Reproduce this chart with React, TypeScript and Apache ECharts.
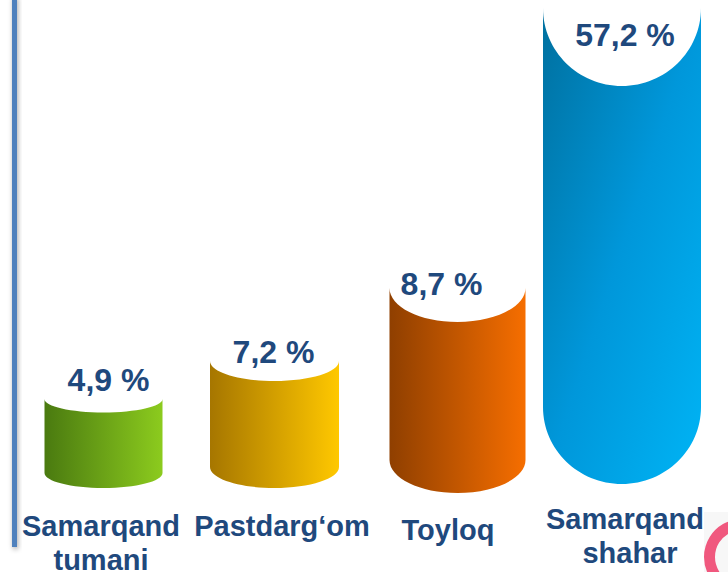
import React, { useEffect, useRef } from "react";
import * as echarts from "echarts";

const categories = ["Samarqand\ntumani", "Pastdarg‘om", "Toyloq", "Samarqand\nshahar"];
const shareLabels = ["4,9 %", "7,2 %", "8,7 %", "57,2 %"];
// The columns of the picture are not proportional to the printed shares, so their
// heights are read separately, in levels measured on the picture.
const drawnLevels = [173, 211, 284, 564];

const barLayout = [
  { dx: 0, w: 118, ryTop: 13.5, ryBottom: 15, baseY: 473, textDx: 5, textDy: -19, labelDx: -2.5, line2Dx: 0, labelY: 509 },
  { dx: -2, w: 129, ryTop: 20, ryBottom: 21, baseY: 467, textDx: -1, textDy: -9, labelDx: 5.5, line2Dx: 0, labelY: 509 },
  { dx: 8, w: 136, ryTop: 34, ryBottom: 33, baseY: 460, textDx: -16, textDy: -4, labelDx: -1.5, line2Dx: 0, labelY: 513 },
  { dx: -0.5, w: 158, ryTop: 78, ryBottom: 77, baseY: 407, textDx: 3, textDy: 27, labelDx: 2.5, line2Dx: 5, labelY: 502 },
];
const gradients = [
  ["#4A7A10", "#8CCB1E"],
  ["#A67600", "#FFC800"],
  ["#8F3F00", "#F66E00"],
  ["#00709F", "#00B4F5"],
];
const TEXT = "#1F497D";
const FONT = '"Liberation Sans", Arial, sans-serif';

export default function App() {
  const ref = useRef<HTMLDivElement>(null);
  useEffect(() => {
    const chart = echarts.init(ref.current!, undefined, { renderer: "svg" });
    chart.setOption({
      animation: false,
      backgroundColor: "#ffffff",
      grid: { left: 17, right: 19, top: 0, bottom: 0 },
      xAxis: { type: "category", data: categories, show: false },
      yAxis: { type: "value", min: 0, max: 572, show: false },
      graphic: [
        {
          type: "rect",
          z: 1,
          shape: { x: 12, y: -4, width: 5, height: 551 },
          style: { fill: "#4F81BD", shadowBlur: 5, shadowColor: "rgba(0,0,0,0.35)", shadowOffsetX: 1, shadowOffsetY: 2 },
        },
        { type: "rect", z: 50, shape: { x: 704, y: 512, width: 24, height: 60 }, style: { fill: "#F7F7F7" } },
        { type: "circle", z: 51, shape: { cx: 742, cy: 557, r: 32.5 }, style: { fill: "#F7F7F7", stroke: "#F0587E", lineWidth: 11 } },
      ],
      series: [
        {
          type: "custom",
          coordinateSystem: "cartesian2d",
          clip: false,
          data: drawnLevels.map((v, i) => [i, v]),
          renderItem: (params: any, api: any) => {
            const i = params.dataIndex;
            const l = barLayout[i];
            const [cx0] = api.coord([i, 0]);
            const cx = cx0 + l.dx;
            const topY = api.coord([i, api.value(1)])[1];
            const hw = l.w / 2;
            const k = 0.5523;
            const d =
              `M${cx - hw} ${topY}` +
              `C${cx - hw} ${topY + l.ryTop * k} ${cx - hw * k} ${topY + l.ryTop} ${cx} ${topY + l.ryTop}` +
              `C${cx + hw * k} ${topY + l.ryTop} ${cx + hw} ${topY + l.ryTop * k} ${cx + hw} ${topY}` +
              `L${cx + hw} ${l.baseY}` +
              `C${cx + hw} ${l.baseY + l.ryBottom * k} ${cx + hw * k} ${l.baseY + l.ryBottom} ${cx} ${l.baseY + l.ryBottom}` +
              `C${cx - hw * k} ${l.baseY + l.ryBottom} ${cx - hw} ${l.baseY + l.ryBottom * k} ${cx - hw} ${l.baseY}Z`;
            const fill =
              i === 3
                ? new echarts.graphic.LinearGradient(0, 0, 1, 1, [
                    { offset: 0, color: gradients[i][0] },
                    { offset: 0.5, color: "#0097DA" },
                    { offset: 1, color: gradients[i][1] },
                  ])
                : new echarts.graphic.LinearGradient(0, 0, 1, 0, [
                    { offset: 0, color: gradients[i][0] },
                    { offset: 1, color: gradients[i][1] },
                  ]);
            const lines = categories[i].split("\n").map((line, n) => ({
              type: "text",
              style: {
                x: cx0 + l.labelDx + (n === 1 ? l.line2Dx : 0),
                y: l.labelY + n * 34,
                text: line,
                fill: TEXT,
                font: `bold 29px ${FONT}`,
                lineHeight: 34,
                textAlign: "center",
                textVerticalAlign: "top",
              },
            }));
            return {
              type: "group",
              children: [
                {
                  type: "path",
                  shape: { pathData: d, layout: "center", x: cx - hw, y: topY, width: l.w, height: l.baseY + l.ryBottom - topY },
                  style: { fill },
                },
                {
                  type: "text",
                  style: {
                    x: cx + l.textDx,
                    y: topY + l.textDy,
                    text: shareLabels[i],
                    fill: TEXT,
                    font: `bold 32px ${FONT}`,
                    textAlign: "center",
                    textVerticalAlign: "middle",
                  },
                },
                ...lines,
              ],
            };
          },
        },
      ],
    });
    return () => chart.dispose();
  }, []);
  return <div ref={ref} style={{ position: "fixed", left: 0, top: 0, width: 728, height: 572 }} />;
}
